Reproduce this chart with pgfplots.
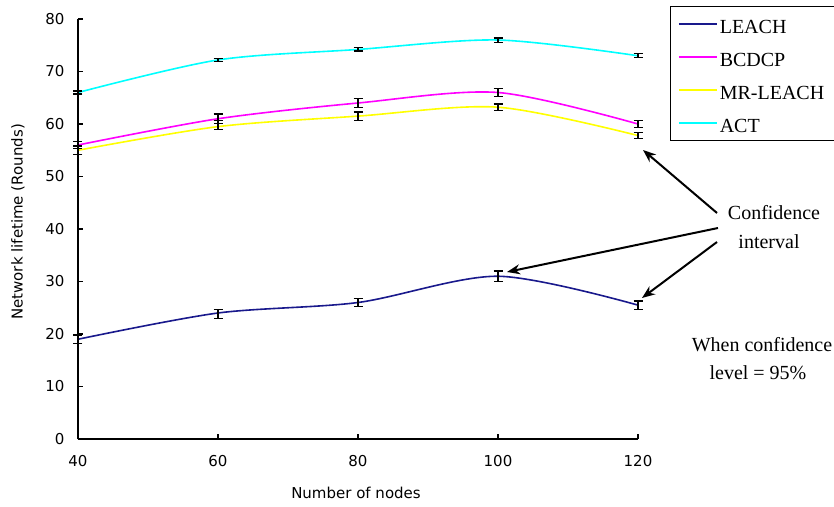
\documentclass[border=0pt]{standalone}
\usepackage{fontspec}
\setmainfont{Liberation Serif}
\newfontfamily\axisfont{DejaVu Sans}
\usepackage{pgfplots}
\pgfplotsset{compat=1.18}
\usetikzlibrary{arrows.meta}
\definecolor{cLEACH}{RGB}{25,25,140}
\definecolor{cBCDCP}{RGB}{255,0,255}
\definecolor{cMR}{RGB}{255,255,0}
\definecolor{cACT}{RGB}{0,255,255}
\newcommand{\lstrut}{\rule{0pt}{20pt}}
\begin{document}
\begin{tikzpicture}
\useasboundingbox (-78pt,-67pt) rectangle (756pt,439pt);
\begin{axis}[
  scale only axis, width=560pt, height=420pt,
  xmin=40, xmax=120, ymin=0, ymax=80,
  axis x line=bottom, axis y line=left,
  axis line style={-, line width=1.3pt, black},
  xtick={40,60,80,100,120}, ytick={0,10,...,80},
  tick align=inside, major tick length=5pt,
  tick style={black, line width=1.2pt},
  /pgf/number format/assume math mode=true,
  ticklabel style={font=\axisfont\fontsize{15}{18}\selectfont},
  yticklabel style={xshift=-10pt},
  xticklabel style={yshift=-13pt},
  clip=false,
  legend style={at={(1.0571,1.031)}, anchor=north west,
    font=\fontsize{20}{24}\selectfont, inner xsep=8pt, inner ysep=4.7pt, row sep=7.3pt},
  legend cell align=left,
  legend image code/.code={\path[draw=none] (0pt,0pt) -- (0pt,13pt); \draw[#1] (0pt,0pt) -- (38pt,0pt);},
]
\addplot[draw=cLEACH, line width=1.6pt, smooth, tension=0.5] coordinates {(40,19) (60,24) (80,26) (100,31) (120,25.5)};
\addlegendentry{\lstrut LEACH}
\addplot[draw=cBCDCP, line width=1.6pt, smooth, tension=0.5] coordinates {(40,56) (60,61) (80,64) (100,66) (120,60)};
\addlegendentry{\lstrut BCDCP}
\addplot[draw=cMR, line width=1.6pt, smooth, tension=0.5] coordinates {(40,55) (60,59.5) (80,61.5) (100,63.2) (120,57.8)};
\addlegendentry{\lstrut MR-LEACH}
\addplot[draw=cACT, line width=1.6pt, smooth, tension=0.5] coordinates {(40,66) (60,72.2) (80,74.2) (100,76) (120,73)};
\addlegendentry{\lstrut ACT}
\addplot[draw=none, mark=none, forget plot, error bars/.cd, y dir=both, y explicit,
  error bar style={black, line width=1.2pt},
  error mark options={black, rotate=90, mark size=4.5pt, line width=1.2pt}]
  coordinates {(40,19) +- (0,0.8) (60,23.8) +- (0,0.9) (80,26) +- (0,0.8) (100,31) +- (0,1.0) (120,25.5) +- (0,0.8)};
\addplot[draw=none, mark=none, forget plot, error bars/.cd, y dir=both, y explicit,
  error bar style={black, line width=1.2pt},
  error mark options={black, rotate=90, mark size=4.5pt, line width=1.2pt}]
  coordinates {(40,56) +- (0,0.6) (60,61) +- (0,0.9) (80,64) +- (0,0.8) (100,66) +- (0,0.8) (120,60) +- (0,0.7)};
\addplot[draw=none, mark=none, forget plot, error bars/.cd, y dir=both, y explicit,
  error bar style={black, line width=1.2pt},
  error mark options={black, rotate=90, mark size=4.5pt, line width=1.2pt}]
  coordinates {(40,55) +- (0,0.8) (60,59.8) +- (0,0.9) (80,61.5) +- (0,0.8) (100,63.2) +- (0,0.6) (120,57.8) +- (0,0.6)};
\addplot[draw=none, mark=none, forget plot, error bars/.cd, y dir=both, y explicit,
  error bar style={black, line width=1.2pt},
  error mark options={black, rotate=90, mark size=4.5pt, line width=1.2pt}]
  coordinates {(40,66) +- (0,0.3) (60,72.2) +- (0,0.3) (80,74.2) +- (0,0.3) (100,76) +- (0,0.4) (120,73) +- (0,0.4)};
\end{axis}
\node[font=\axisfont\fontsize{15}{18}\selectfont, rotate=90] at (-60pt,217pt) {Network lifetime (Rounds)};
\node[font=\axisfont\fontsize{15}{18}\selectfont] at (278pt,-54pt) {Number of nodes};
\draw[line width=2pt, -{Stealth[length=13pt,width=10pt]}] (639pt,226pt) -- (565pt,289pt);
\draw[line width=2pt, -{Stealth[length=13pt,width=10pt]}] (640pt,211pt) -- (429pt,167pt);
\draw[line width=2pt, -{Stealth[length=13pt,width=10pt]}] (639pt,197pt) -- (564pt,141pt);
\node[font=\fontsize{20}{24}\selectfont] at (696pt,226pt) {Confidence};
\node[font=\fontsize{20}{24}\selectfont] at (691pt,197pt) {interval};
\node[font=\fontsize{20}{24}\selectfont] at (684pt,94pt) {When confidence};
\node[font=\fontsize{20}{24}\selectfont] at (680pt,66pt) {level = 95\%};
\end{tikzpicture}
\end{document}
